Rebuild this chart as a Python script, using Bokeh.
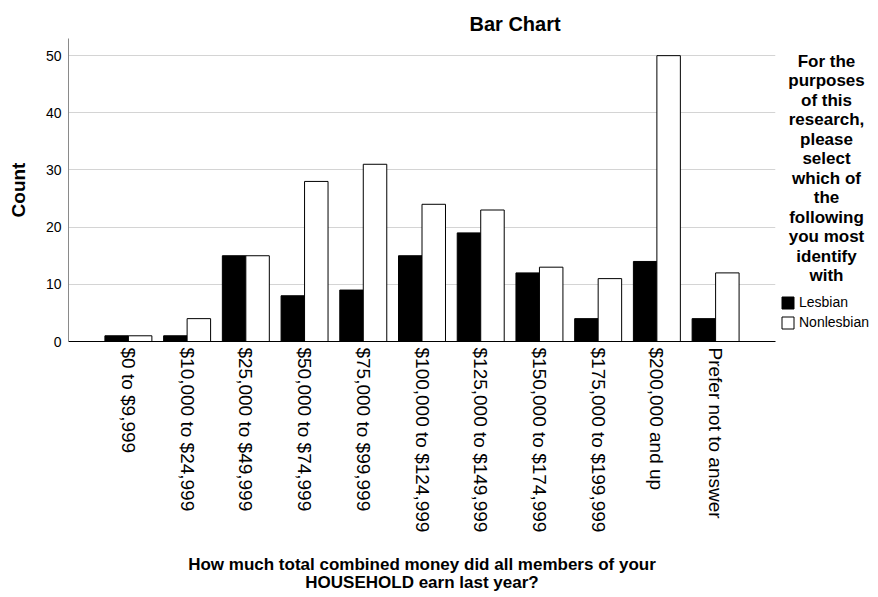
import math
from bokeh.plotting import figure
from bokeh.layouts import row
from bokeh.models import FactorRange, Range1d, FixedTicker, Label, Legend, LegendItem, ColumnDataSource
from bokeh.transform import dodge
from bokeh.embed import file_html
from bokeh.resources import INLINE

categories = ["$0 to $9,999", "$10,000 to $24,999", "$25,000 to $49,999",
              "$50,000 to $74,999", "$75,000 to $99,999", "$100,000 to $124,999",
              "$125,000 to $149,999", "$150,000 to $174,999", "$175,000 to $199,999",
              "$200,000 and up", "Prefer not to answer"]
lesbian = [1, 1, 15, 8, 9, 15, 19, 12, 4, 14, 4]
nonlesbian = [1, 4, 15, 28, 31, 24, 23, 13, 11, 50, 12]
series_names = ["Lesbian", "Nonlesbian"]
series_colors = ["black", "white"]
y_ticks = [0, 10, 20, 30, 40, 50]
legend_title_lines = ["For the", "purposes", "of this", "research,", "please", "select",
                      "which of", "the", "following", "you most", "identify", "with"]
chart_title = "Bar Chart"
x_title = "How much total combined money did all members of your\nHOUSEHOLD earn last year?"
y_title = "Count"

FONT = "Liberation Sans"
H = 595
W1 = 777
W2 = 95
FRAME_TOP, FRAME_BOTTOM = 38, 344

# ---------------- main chart ----------------
p = figure(width=W1, height=H, output_backend="svg", toolbar_location=None,
           x_range=FactorRange(factors=categories, range_padding=0.52,
                               range_padding_units="absolute"),
           y_range=Range1d(0, 53),
           min_border_left=68, min_border_right=W1 - 775, min_border_top=FRAME_TOP,
           min_border_bottom=H - FRAME_BOTTOM)
p.outline_line_color = None
p.background_fill_color = "white"
p.border_fill_color = "white"

src = ColumnDataSource(dict(cat=categories, les=lesbian, non=nonlesbian))
p.vbar(x=dodge("cat", -0.2, range=p.x_range), top="les", width=0.4, source=src,
       fill_color=series_colors[0], line_color="black", line_width=1)
p.vbar(x=dodge("cat", 0.2, range=p.x_range), top="non", width=0.4, source=src,
       fill_color=series_colors[1], line_color="black", line_width=1)

# title
p.title.text = chart_title
p.title.text_font = FONT
p.title.text_font_size = "20px"
p.title.text_font_style = "bold"
p.title.text_color = "black"
p.title.align = "left"
p.title.offset = 401
p.title.standoff = 8

# grid
p.xgrid.grid_line_color = None
p.ygrid.grid_line_color = "#d4d4d4"
p.ygrid.ticker = FixedTicker(ticks=y_ticks[1:])

# y axis
p.yaxis.ticker = FixedTicker(ticks=y_ticks)
p.yaxis.major_tick_line_color = None
p.yaxis.major_tick_out = 0
p.yaxis.major_tick_in = 0
p.yaxis.minor_tick_line_color = None
p.yaxis.axis_line_color = "#8a8a8a"
p.yaxis.major_label_text_font = FONT
p.yaxis.major_label_text_font_size = "14px"
p.yaxis.major_label_text_color = "black"
p.yaxis.major_label_standoff = 7
p.yaxis.axis_label = y_title
p.yaxis.axis_label_text_font = FONT
p.yaxis.axis_label_text_font_size = "19px"
p.yaxis.axis_label_text_font_style = "bold"
p.yaxis.axis_label_text_color = "black"
p.yaxis.axis_label_standoff = 14

# x axis
p.xaxis.major_tick_line_color = None
p.xaxis.major_tick_out = 0
p.xaxis.major_tick_in = 0
p.xaxis.minor_tick_line_color = None
p.xaxis.axis_line_color = "black"
p.xaxis.major_label_orientation = -math.pi / 2
p.xaxis.major_label_text_font = FONT
p.xaxis.major_label_text_font_size = "19px"
p.xaxis.major_label_text_color = "black"
p.xaxis.major_label_standoff = 6
p.xaxis.axis_label = x_title
p.xaxis.axis_label_text_font = FONT
p.xaxis.axis_label_text_font_size = "17px"
p.xaxis.axis_label_text_font_style = "bold"
p.xaxis.axis_label_text_color = "black"
p.xaxis.axis_label_text_line_height = 0.95
p.xaxis.axis_label_standoff = 20

# ---------------- legend panel (frame aligned with the main frame) ----------------
p2 = figure(width=W2, height=H, output_backend="svg", toolbar_location=None,
            x_range=Range1d(W1, W1 + W2), y_range=Range1d(FRAME_BOTTOM - 2, FRAME_TOP - 2),
            x_axis_location=None, y_axis_location=None, min_border=0)
p2.outline_line_color = None
p2.grid.visible = False
p2.background_fill_color = "white"
p2.border_fill_color = "white"

for i, line in enumerate(legend_title_lines):
    p2.add_layout(Label(x=826, y=59 + i * 19.7, text=line,
                        text_align="center", text_baseline="middle",
                        text_font=FONT, text_font_size="17px",
                        text_font_style="bold", text_color="black"))

# hidden renderers that only supply the legend swatches
leg_renderers = [p2.vbar(x="cat", top=col, width=0.4, source=src, visible=False,
                         fill_color=c, line_color="black", line_width=1)
                 for col, c in zip(["les", "non"], series_colors)]
legend = Legend(items=[LegendItem(label=n, renderers=[r])
                       for n, r in zip(series_names, leg_renderers)],
                location=(3, 342 - 331), orientation="vertical",
                glyph_width=15, glyph_height=15, label_height=15,
                label_standoff=4, spacing=4, padding=0, margin=0,
                border_line_color=None, background_fill_alpha=0,
                inactive_fill_alpha=0,
                label_text_font=FONT, label_text_font_size="14px",
                label_text_color="black")
p2.add_layout(legend, "center")

layout = row(p, p2)
open("out.html", "w").write(file_html(layout, INLINE))
